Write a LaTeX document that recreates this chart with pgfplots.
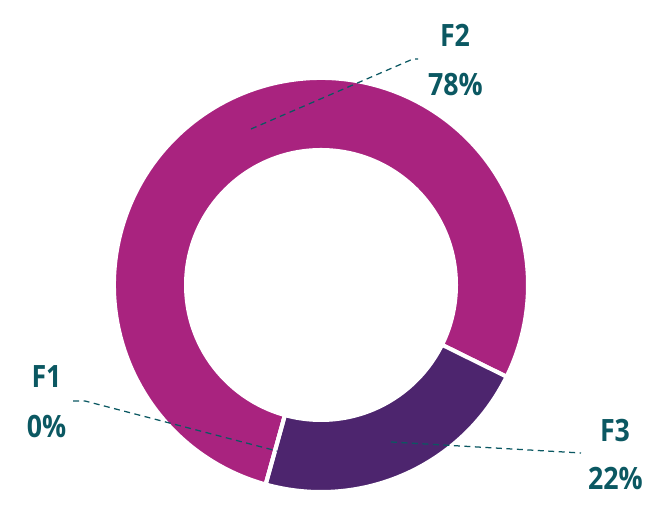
\documentclass[border=0pt]{standalone}
\usepackage{pgfplots}
\pgfplotsset{compat=1.18}
\usepackage{fontspec}
\setmainfont[FakeStretch=0.87]{Open Sans}
\definecolor{Ftwo}{HTML}{A9237F}
\definecolor{Fthree}{HTML}{4D256E}
\definecolor{lbl}{HTML}{0B5862}
% data (percent)
\def\valA{0}   % F1
\def\valB{78}  % F2
\def\valC{22}  % F3
\def\startang{-105.5}
\pgfmathsetmacro\aA{\startang}
\pgfmathsetmacro\aB{\aA-\valA*3.6}
\pgfmathsetmacro\aC{\aB-\valB*3.6}
\pgfmathsetmacro\aD{\aC-\valC*3.6}
\def\Rout{82.8pt}
\def\Rin{54.8pt}
\begin{document}
\begin{tikzpicture}
\begin{axis}[hide axis, x=0.4pt, y=0.4pt, xmin=-321, xmax=326, ymin=-217, ymax=285,
  clip=false, scale only axis]
\fill[Ftwo, draw=white, line width=1.6pt] (axis cs:0,0) -- ++(\aB:\Rout) arc[start angle=\aB, end angle=\aC, radius=\Rout] -- cycle;
\fill[Fthree, draw=white, line width=1.6pt] (axis cs:0,0) -- ++(\aC:\Rout) arc[start angle=\aC, end angle=\aD, radius=\Rout] -- cycle;
\draw[white, line width=1.6pt] (axis cs:0,0) -- ++(\aA:\Rout);
\fill[white] (axis cs:0,0) circle[radius=\Rin];
% leader lines
\addplot[lbl, line width=0.5pt, dash pattern=on 2.4pt off 1.8pt, no marks] coordinates {(-70,156) (92,226) (97,226)};
\addplot[lbl, line width=0.5pt, dash pattern=on 2.4pt off 1.8pt, no marks] coordinates {(-248,-116) (-236,-116) (-44,-166)};
\addplot[lbl, line width=0.5pt, dash pattern=on 2.4pt off 1.8pt, no marks] coordinates {(70,-157) (260,-168)};
% labels
\tikzset{lab/.style={font=\fontsize{12.3pt}{14pt}\selectfont\bfseries, text=lbl, anchor=base, inner sep=0pt}}
\node[lab] at (axis cs:134,238) {F2};
\node[lab] at (axis cs:134.5,189) {78\%};
\node[lab] at (axis cs:-274.5,-103) {F1};
\node[lab] at (axis cs:-274.5,-153) {0\%};
\node[lab] at (axis cs:294,-157) {F3};
\node[lab] at (axis cs:294.5,-205) {22\%};
\end{axis}
\path (current axis.south west) rectangle (current axis.north east);
\end{tikzpicture}
\end{document}
